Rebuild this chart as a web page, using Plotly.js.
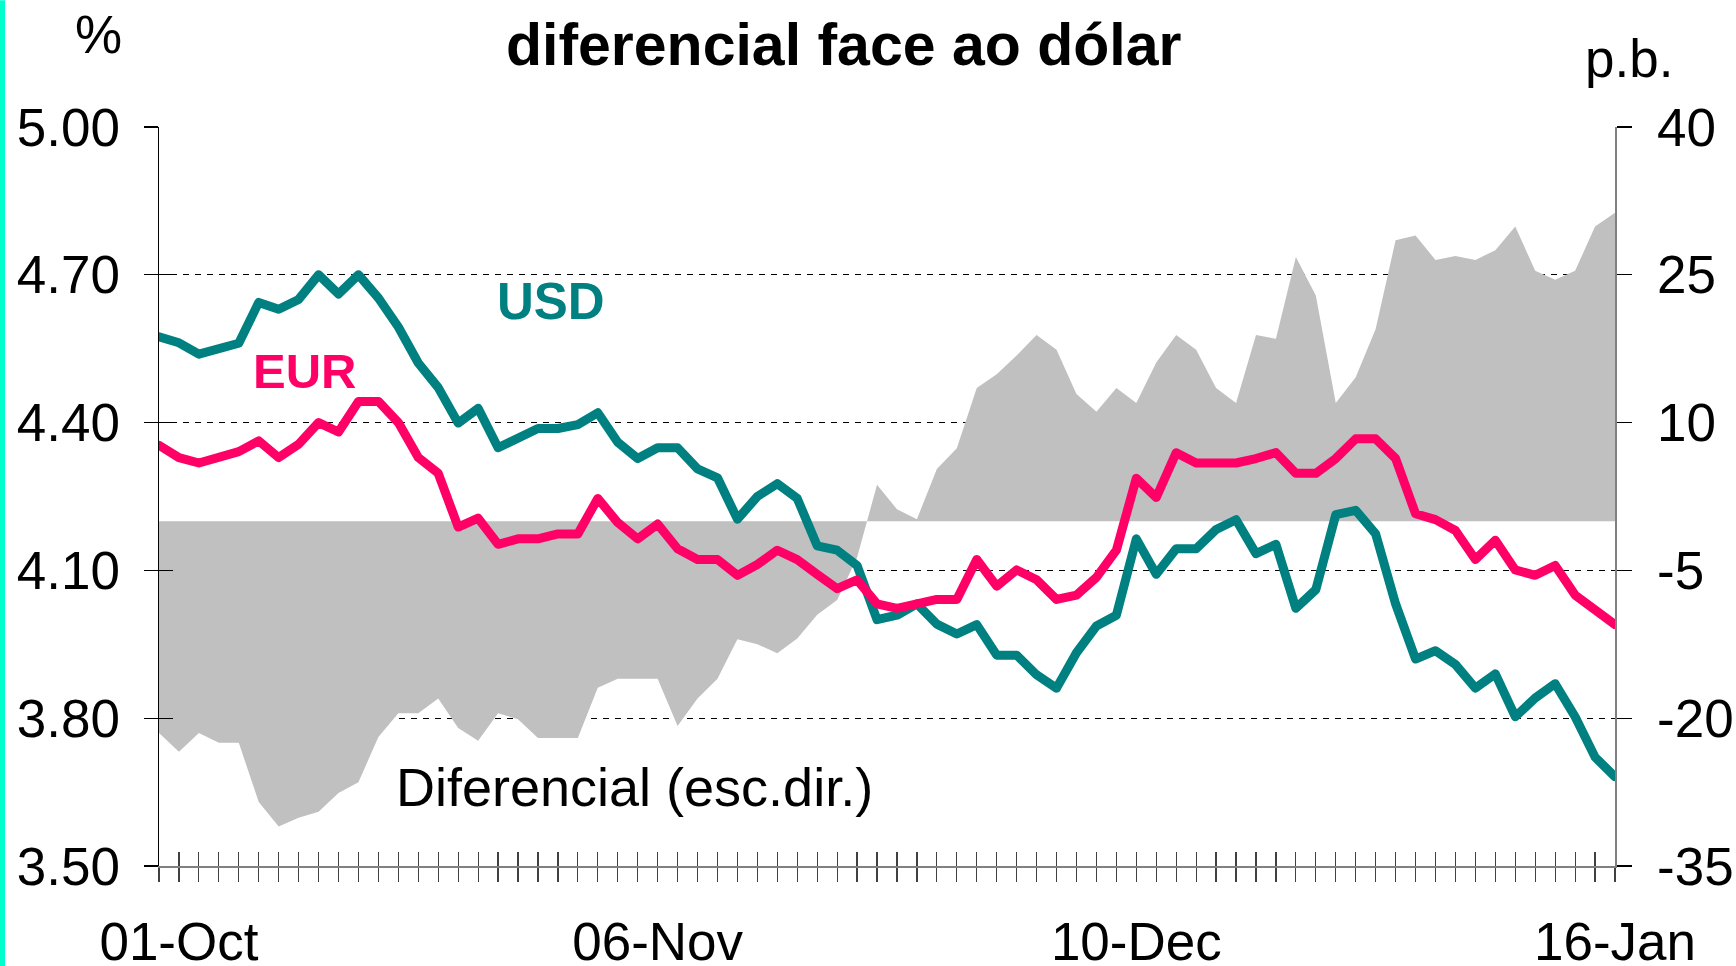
<!DOCTYPE html>
<html>
<head>
<meta charset="utf-8">
<script src="https://cdn.plot.ly/plotly-3.0.1.min.js"></script>
<style>
  html, body { margin: 0; padding: 0; background: #ffffff; }
  #chart { width: 1736px; height: 966px; }
  .scatterlayer .js-line { stroke-linejoin: round; stroke-linecap: round; }
</style>
</head>
<body>
<div id="chart"></div>
<script>
// ---- data ----
const tickLabels = ['01-Oct', '06-Nov', '10-Dec', '16-Jan'];
const tickIdx = [1, 25, 49, 73];
const rightTicks = [-35, -20, -5, 10, 25, 40];
const rightTickText = ['-35', '-20', '-5', '10', '25', '40'];

const USD = [4.574,4.562,4.539,4.550,4.561,4.644,4.630,4.650,4.700,4.661,
             4.700,4.653,4.594,4.521,4.471,4.399,4.429,4.349,4.369,4.388,
             4.388,4.396,4.420,4.360,4.327,4.349,4.349,4.306,4.288,4.204,
             4.250,4.276,4.246,4.150,4.141,4.110,4.000,4.009,4.032,3.991,
             3.971,3.990,3.928,3.928,3.888,3.861,3.933,3.987,4.009,4.164,
             4.092,4.144,4.144,4.183,4.203,4.134,4.153,4.023,4.061,4.213,
             4.222,4.174,4.032,3.920,3.937,3.909,3.861,3.890,3.803,3.841,
             3.870,3.803,3.721,3.681];

const EUR = [4.354,4.329,4.318,4.329,4.341,4.363,4.329,4.356,4.400,4.381,
             4.443,4.443,4.400,4.329,4.297,4.188,4.206,4.153,4.164,4.164,
             4.174,4.174,4.246,4.197,4.164,4.194,4.144,4.122,4.122,4.090,
             4.112,4.141,4.122,4.092,4.063,4.081,4.032,4.023,4.034,4.041,
             4.041,4.122,4.068,4.101,4.081,4.041,4.050,4.086,4.141,4.287,
             4.248,4.339,4.318,4.318,4.318,4.327,4.339,4.297,4.297,4.327,
             4.367,4.367,4.327,4.215,4.203,4.181,4.122,4.161,4.101,4.090,
             4.110,4.050,4.020,3.990];

const DIF = [-21.5,-23.4,-21.5,-22.5,-22.5,-28.5,-31.0,-30.1,-29.5,-27.6,
             -26.5,-21.9,-19.5,-19.5,-18.0,-21.0,-22.3,-19.5,-20.1,-22.0,
             -22.0,-22.0,-16.9,-16.0,-16.0,-16.0,-20.8,-18.0,-16.0,-12.0,
             -12.5,-13.4,-11.9,-9.5,-8.0,-3.7,3.7,1.2,0.2,5.3,
             7.4,13.5,14.9,16.8,18.9,17.4,12.9,11.1,13.5,12.0,
             16.1,18.9,17.4,13.5,12.0,18.9,18.5,26.8,22.9,12.0,
             14.6,19.5,28.5,29.0,26.5,26.9,26.5,27.5,29.9,25.4,
             24.5,25.4,29.9,31.3];

const idx = USD.map((_, i) => i);
const lastIdx = idx[idx.length - 1];

const FONT = 'Liberation Sans, Arial, sans-serif';
const TEAL = '#008080';
const PINK = '#ff0066';
const LW = 9;

const traces = [
  { // differential, right axis (main y)
    x: idx, y: DIF, xaxis: 'x', yaxis: 'y',
    type: 'scatter', mode: 'lines', fill: 'tozeroy',
    fillcolor: '#c0c0c0', line: { width: 0, color: '#c0c0c0' },
    hoverinfo: 'skip', showlegend: false
  },
  {
    x: idx, y: USD, xaxis: 'x', yaxis: 'y2',
    type: 'scatter', mode: 'lines',
    line: { color: TEAL, width: LW }, showlegend: false
  },
  {
    x: idx, y: EUR, xaxis: 'x2', yaxis: 'y3',
    type: 'scatter', mode: 'lines',
    line: { color: PINK, width: LW }, showlegend: false
  }
];

const tickFont = { family: FONT, size: 53, color: '#000000' };

const layout = {
  width: 1736, height: 966, autosize: false,
  margin: { l: 159, r: 121, t: 127, b: 100, pad: 0 },
  paper_bgcolor: '#ffffff', plot_bgcolor: 'rgba(0,0,0,0)',
  showlegend: false,
  title: {
    text: 'diferencial face ao dólar',
    font: { family: FONT, size: 59, color: '#000000', weight: 'bold' },
    xref: 'container', yref: 'container',
    x: 0.486, y: 1 - 44.5 / 966, xanchor: 'center', yanchor: 'middle'
  },
  xaxis: {
    range: [0, lastIdx], anchor: 'y',
    tickmode: 'array', tickvals: tickIdx, ticktext: tickLabels,
    ticks: 'outside', ticklen: 14, tickwidth: 1.2, tickcolor: '#404040',
    minor: { tickmode: 'linear', tick0: 0, dtick: 1, ticks: 'outside', ticklen: 14, tickwidth: 1.2, tickcolor: '#404040', showgrid: false },
    showline: true, linecolor: '#808080', linewidth: 1.5,
    showgrid: false, zeroline: false,
    tickfont: tickFont, ticklabelstandoff: 15
  },
  xaxis2: {
    range: [0, lastIdx], overlaying: 'x', anchor: 'y', side: 'bottom',
    tickmode: 'linear', tick0: 0, dtick: 1,
    ticks: 'inside', ticklen: 14, tickwidth: 1.2, tickcolor: '#404040',
    showticklabels: false, showline: false, showgrid: false, zeroline: false
  },
  yaxis: { // right axis, p.b.
    range: [-35, 40], side: 'right', anchor: 'x',
    tickmode: 'array', tickvals: rightTicks, ticktext: rightTickText,
    ticks: 'outside', ticklen: 15, tickwidth: 1.2, tickcolor: '#000000',
    showline: true, linecolor: '#808080', linewidth: 1.5,
    showgrid: false, zeroline: false,
    tickfont: tickFont, ticklabelstandoff: 15
  },
  yaxis2: { // left axis, %
    range: [3.5, 5.0], overlaying: 'y', side: 'left', anchor: 'x',
    tickmode: 'linear', tick0: 3.5, dtick: 0.3, tickformat: '.2f',
    ticks: 'outside', ticklen: 14, tickwidth: 1.2, tickcolor: '#000000',
    showline: true, linecolor: '#000000', linewidth: 1.5,
    showgrid: true, gridcolor: '#000000', gridwidth: 1, griddash: '6px,6px',
    zeroline: false,
    tickfont: tickFont, ticklabelstandoff: 13
  },
  yaxis3: {
    range: [3.5, 5.0], overlaying: 'y', side: 'left', anchor: 'x',
    tickmode: 'linear', tick0: 3.5, dtick: 0.3,
    ticks: 'inside', ticklen: 14, tickwidth: 1.2, tickcolor: '#000000',
    showticklabels: false, showline: false, showgrid: false, zeroline: false
  },
  annotations: [
    { text: '%', xref: 'paper', yref: 'paper', x: (98.5 - 159) / 1456, y: (866 - 34) / 739.3,
      xanchor: 'center', yanchor: 'middle', showarrow: false, font: { family: FONT, size: 53, color: '#000000' } },
    { text: 'p.b.', xref: 'paper', yref: 'paper', x: (1629 - 159) / 1456, y: (866 - 58) / 739.3,
      xanchor: 'center', yanchor: 'middle', showarrow: false, font: { family: FONT, size: 53, color: '#000000' } },
    { text: 'USD', xref: 'paper', yref: 'paper', x: (551 - 159) / 1456, y: (866 - 301.5) / 739.3,
      xanchor: 'center', yanchor: 'middle', showarrow: false, font: { family: FONT, size: 51, color: TEAL, weight: 'bold' } },
    { text: 'EUR', xref: 'paper', yref: 'paper', x: (304.5 - 159) / 1456, y: (866 - 371) / 739.3,
      xanchor: 'center', yanchor: 'middle', showarrow: false, font: { family: FONT, size: 49, color: PINK, weight: 'bold' } },
    { text: 'Diferencial (esc.dir.)', xref: 'paper', yref: 'paper', x: (634 - 159) / 1456, y: (866 - 786.5) / 739.3,
      xanchor: 'center', yanchor: 'middle', showarrow: false, font: { family: FONT, size: 54, color: '#000000' } }
  ],
  shapes: [
    { type: 'rect', xref: 'paper', yref: 'paper', layer: 'above',
      x0: (0 - 159) / 1456, x1: (5 - 159) / 1456, y0: (866 - 966) / 739.3, y1: (866 - 0) / 739.3,
      fillcolor: '#00ffcc', line: { width: 0 } }
  ]
};

Plotly.newPlot('chart', traces, layout, { staticPlot: true, displayModeBar: false });
</script>
</body>
</html>
